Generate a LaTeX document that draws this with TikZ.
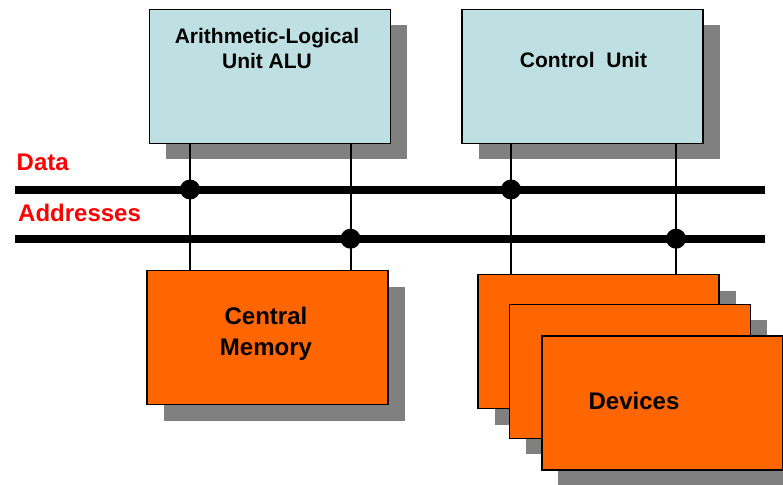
\documentclass[tikz,border=0pt]{standalone}
\usepackage{fontspec}
\setmainfont{Liberation Sans}
\usetikzlibrary{shadows,positioning}
\definecolor{unitcyan}{RGB}{190,224,226}
\definecolor{devorange}{RGB}{255,102,0}
\definecolor{shadowgray}{RGB}{128,128,128}
\tikzset{
  box/.style={draw=black, line width=1.5pt, minimum width=241pt, minimum height=134pt, inner sep=0pt,
    drop shadow={shadow xshift=16.5pt, shadow yshift=-16pt, opacity=1, fill=shadowgray}},
  unit/.style={box, fill=unitcyan},
  dev/.style={box, fill=devorange},
  bus/.style={line width=8pt},
  wire/.style={line width=2pt},
  dot/.style={circle, fill=black, inner sep=0pt, minimum size=20pt},
  txt/.style={font=\bfseries\fontsize{21}{25.6}\selectfont, align=center, inner sep=0pt, anchor=north},
  bigtxt/.style={font=\bfseries\fontsize{24}{31}\selectfont, align=center, inner sep=0pt, anchor=north},
  buslabel/.style={text=red, font=\bfseries\fontsize{24}{28}\selectfont, inner sep=0pt, anchor=base west}
}
\begin{document}
\begin{tikzpicture}[x=1pt, y=-1pt]
\useasboundingbox (0,0) rectangle (783,484);
% units
\node[unit] (alu) at (270,76.3) {};
\node[unit] (cu) at (582.7,76.3) {};
\node[txt] (alutext) at (267,27.7) {Arithmetic-Logical\\Unit ALU};
\node[txt] (cutext) at (583.5,51.7) {Control\ \ Unit};
% memory and devices
\node[dev] (mem) at (267.7,337.7) {};
\node[bigtxt] (memtext) at (266,306.8) {Central\\Memory};
\node[dev] (dev1) at (598.7,341.5) {};
\node[dev] (dev2) at (630,371.4) {};
\node[dev] (dev3) at (662.3,403.2) {};
\node[bigtxt] (devtext) at (634,391.8) {Devices};
% buses
\coordinate (dataL) at (15,189.5);
\coordinate (dataR) at (764.5,189.5);
\coordinate (addrL) at (15,238.7);
\coordinate (addrR) at (764.5,238.7);
\draw[bus] (dataL) -- (dataR);
\draw[bus] (addrL) -- (addrR);
\node[buslabel] (datalabel) at (16.5,170.7) {Data};
\node[buslabel] (addrlabel) at (18,221.7) {Addresses};
% junctions
\coordinate (j1) at (190,189.5);
\coordinate (j2) at (350.5,238.7);
\coordinate (j3) at (511,189.5);
\coordinate (j4) at (676,238.7);
\draw[wire] (alu.south -| j1) -- (mem.north -| j1);
\draw[wire] (alu.south -| j2) -- (mem.north -| j2);
\draw[wire] (cu.south -| j3) -- (dev1.north -| j3);
\draw[wire] (cu.south -| j4) -- (dev1.north -| j4);
\node[dot] (d1) at (j1) {};
\node[dot] (d2) at (j2) {};
\node[dot] (d3) at (j3) {};
\node[dot] (d4) at (j4) {};
\end{tikzpicture}
\end{document}
